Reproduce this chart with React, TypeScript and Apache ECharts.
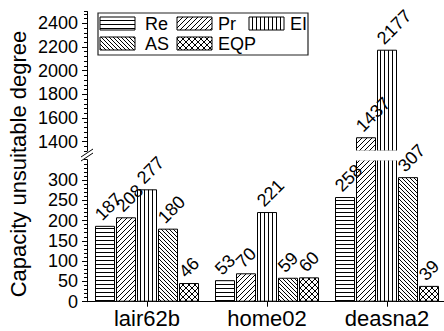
import React, { useEffect, useRef } from 'react';
import * as echarts from 'echarts';

const categories = ['lair62b', 'home02', 'deasna2'];
const seriesNames = ['Re', 'Pr', 'EI', 'AS', 'EQP'];
const reValues = [187, 53, 258];
const prValues = [208, 70, 1437];
const eiValues = [277, 221, 2177];
const asValues = [180, 59, 307];
const eqpValues = [46, 60, 39];
const upperTicks = [1400, 1600, 1800, 2000, 2200, 2400];
const lowerTicks = [0, 50, 100, 150, 200, 250, 300];
const upperRange = [1320, 2500];
const lowerRange = [0, 350];
const yTitle = 'Capacity unsuitable degree';

const FONT = '"Liberation Sans", Arial, sans-serif';

type Kind = 'h' | 'f' | 'v' | 'b' | 'x';
const kinds: Kind[] = ['h', 'f', 'v', 'b', 'x'];

function makePattern(kind: Kind) {
  const sizes: Record<Kind, number> = { h: 4, v: 4, f: 5, b: 4, x: 6 };
  const s = sizes[kind];
  const c = document.createElement('canvas');
  c.width = s;
  c.height = s;
  const g = c.getContext('2d')!;
  g.fillStyle = '#fff';
  g.fillRect(0, 0, s, s);
  g.strokeStyle = '#000';
  g.lineWidth = 1;
  g.beginPath();
  const fwd = () => {
    for (const o of [-s, 0, s]) {
      g.moveTo(o, s);
      g.lineTo(o + s, 0);
    }
  };
  const bwd = () => {
    for (const o of [-s, 0, s]) {
      g.moveTo(o, 0);
      g.lineTo(o + s, s);
    }
  };
  if (kind === 'h') {
    g.moveTo(0, 0.5);
    g.lineTo(s, 0.5);
  } else if (kind === 'v') {
    g.moveTo(0.5, 0);
    g.lineTo(0.5, s);
  } else if (kind === 'f') fwd();
  else if (kind === 'b') bwd();
  else {
    fwd();
    bwd();
  }
  g.stroke();
  return { image: c, repeat: 'repeat', imageWidth: s, imageHeight: s } as any;
}

export default function App() {
  const ref = useRef<HTMLDivElement>(null);
  useEffect(() => {
    if (!ref.current) return;
    const chart = echarts.init(ref.current, null, { renderer: 'svg' });
    const patterns = kinds.map((k) => makePattern(k));
    const allValues = [reValues, prValues, eiValues, asValues, eqpValues];

    const labelBase = {
      show: true,
      position: 'top',
      rotate: 45,
      align: 'left',
      verticalAlign: 'middle',
      distance: 0,
      offset: [1, -11],
      fontSize: 18,
      color: '#000',
      fontFamily: FONT,
      formatter: '{c}',
    };

    const upperData = (vals: number[]) => vals.map((v) => (v >= upperRange[0] ? v : '-'));
    const lowerData = (vals: number[]) =>
      vals.map((v) => (v <= lowerRange[1] ? v : { value: v, label: { show: false } }));

    const series: any[] = [];
    // visible bars (no labels), below the white break band
    allValues.forEach((vals, i) => {
      series.push({
        name: seriesNames[i],
        type: 'bar',
        xAxisIndex: 0,
        yAxisIndex: 0,
        barWidth: 20,
        barGap: '5%',
        clip: true,
        z: 1,
        data: upperData(vals),
        itemStyle: { color: patterns[i], borderColor: '#000', borderWidth: 1 },
        label: { show: false },
        emphasis: { disabled: true },
      });
      series.push({
        name: seriesNames[i],
        type: 'bar',
        xAxisIndex: 1,
        yAxisIndex: 2,
        barWidth: 20,
        barGap: '5%',
        clip: true,
        z: 1,
        data: lowerData(vals),
        itemStyle: { color: patterns[i], borderColor: '#000', borderWidth: 1 },
        label: { show: false },
        emphasis: { disabled: true },
      });
    });
    // label-only copies above the white break band
    allValues.forEach((vals, i) => {
      series.push({
        name: seriesNames[i] + ' label',
        type: 'bar',
        xAxisIndex: 2,
        yAxisIndex: 0,
        barWidth: 20,
        barGap: '5%',
        clip: false,
        z: 5,
        data: upperData(vals),
        itemStyle: { color: 'rgba(0,0,0,0)', borderWidth: 0 },
        label: labelBase,
        emphasis: { disabled: true },
        silent: true,
      });
      series.push({
        name: seriesNames[i] + ' label',
        type: 'bar',
        xAxisIndex: 3,
        yAxisIndex: 2,
        barWidth: 20,
        barGap: '5%',
        clip: true,
        z: 5,
        data: lowerData(vals),
        itemStyle: { color: 'rgba(0,0,0,0)', borderWidth: 0 },
        label: labelBase,
        emphasis: { disabled: true },
        silent: true,
      });
    });

    const axisLabelStyle = {
      fontSize: 18,
      color: '#000',
      fontFamily: FONT,
      formatter: (v: number) => String(v),
    };
    const lineStyle = { color: '#000', width: 1 };

    const legendPos = [
      [100, 17],
      [177, 17],
      [249, 17],
      [100, 37],
      [177, 37],
    ];
    const legendTextX = [145, 218, 290, 145, 218];
    const legendElems: any[] = [
      {
        type: 'rect',
        shape: { x: 98, y: 13, width: 210, height: 42 },
        style: { fill: '#fff', stroke: '#222', lineWidth: 1.2 },
        z: 100,
      },
    ];
    seriesNames.forEach((n, i) => {
      legendElems.push({
        type: 'rect',
        shape: { x: legendPos[i][0], y: legendPos[i][1], width: 35, height: 13 },
        style: { fill: patterns[i], stroke: '#000', lineWidth: 1 },
        z: 101,
      });
      legendElems.push({
        type: 'text',
        x: legendTextX[i],
        y: legendPos[i][1] + 6.5,
        style: {
          text: n,
          fontSize: 18,
          fontFamily: FONT,
          fill: '#000',
          align: 'left',
          verticalAlign: 'middle',
        },
        z: 101,
      });
    });

    chart.setOption({
      animation: false,
      backgroundColor: '#fff',
      grid: [
        { left: 87, top: 11.5, width: 360, height: 139.6, outerBoundsMode: 'none' },
        { left: 87, top: 159.7, width: 360, height: 142, outerBoundsMode: 'none' },
      ],
      xAxis: [
        { type: 'category', gridIndex: 0, data: categories, show: false },
        {
          type: 'category',
          gridIndex: 1,
          data: categories,
          axisLine: { lineStyle },
          axisTick: { show: true, alignWithLabel: true, length: 5, lineStyle },
          axisLabel: { fontSize: 22, color: '#000', fontFamily: FONT, margin: 6 },
        },
        { type: 'category', gridIndex: 0, data: categories, show: false },
        { type: 'category', gridIndex: 1, data: categories, show: false },
      ],
      yAxis: [
        {
          type: 'value',
          gridIndex: 0,
          position: 'left',
          min: upperRange[0],
          max: upperRange[1],
          axisLine: { show: true, lineStyle },
          axisTick: { show: true, length: 5, lineStyle, customValues: upperTicks },
          axisLabel: { ...axisLabelStyle, margin: 9, customValues: upperTicks },
          splitLine: { show: false },
        },
        {
          type: 'value',
          gridIndex: 0,
          position: 'left',
          min: upperRange[0],
          max: upperRange[1],
          interval: 40,
          axisLine: { show: false },
          axisTick: { show: true, length: 3, lineStyle },
          axisLabel: { show: false },
          splitLine: { show: false },
        },
        {
          type: 'value',
          gridIndex: 1,
          position: 'left',
          min: lowerRange[0],
          max: lowerRange[1],
          axisLine: { show: true, lineStyle },
          axisTick: { show: true, length: 5, lineStyle, customValues: lowerTicks },
          axisLabel: { ...axisLabelStyle, margin: 9, customValues: lowerTicks },
          splitLine: { show: false },
        },
        {
          type: 'value',
          gridIndex: 1,
          position: 'left',
          min: lowerRange[0],
          max: lowerRange[1],
          interval: 10,
          axisLine: { show: false },
          axisTick: { show: true, length: 3, lineStyle },
          axisLabel: { show: false },
          splitLine: { show: false },
        },
      ],
      graphic: [
        {
          type: 'rect',
          shape: { x: 88, y: 150.6, width: 360, height: 10 },
          style: { fill: '#fff' },
          z: 3,
        },
        {
          type: 'text',
          x: 18,
          y: 164,
          rotation: Math.PI / 2,
          style: {
            text: yTitle,
            fontSize: 22,
            fontFamily: FONT,
            fill: '#000',
            align: 'center',
            verticalAlign: 'middle',
          },
        },
        {
          type: 'line',
          shape: { x1: 81, y1: 157, x2: 93, y2: 149 },
          style: { stroke: '#000', lineWidth: 1 },
          z: 60,
        },
        {
          type: 'line',
          shape: { x1: 81, y1: 161, x2: 93, y2: 153 },
          style: { stroke: '#000', lineWidth: 1 },
          z: 60,
        },
        ...legendElems,
      ],
      series,
    });
    return () => chart.dispose();
  }, []);
  return (
    <div
      ref={ref}
      style={{ position: 'fixed', left: 0, top: 0, width: 444, height: 331 }}
    />
  );
}
